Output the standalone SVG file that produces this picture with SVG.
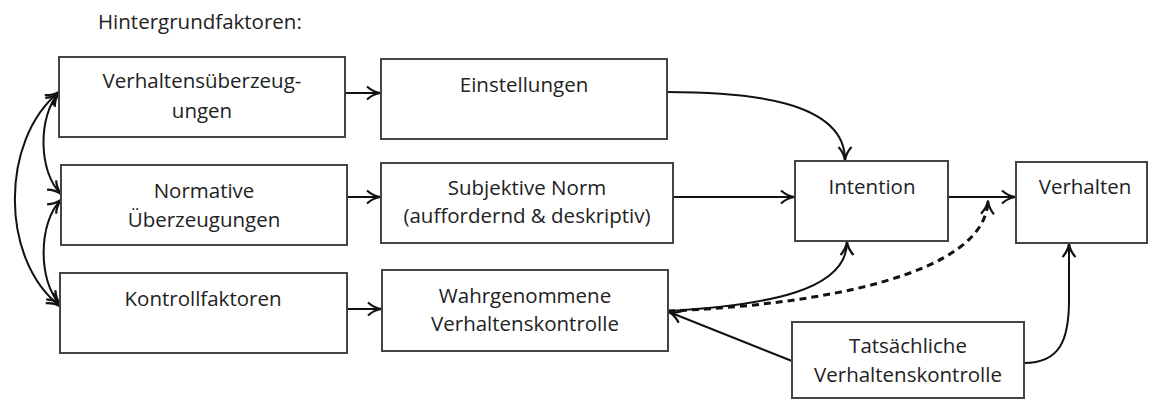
<svg xmlns="http://www.w3.org/2000/svg" width="1150" height="401" viewBox="0 0 1150 401">
<defs>
<style>
.box{fill:#fff;stroke:#444;stroke-width:2}
.t{font-family:"Open Sans","Noto Sans","Liberation Sans",sans-serif;font-size:20.5px;fill:#222;text-anchor:middle}
.c{fill:none;stroke:#111;stroke-width:2}
.d{fill:none;stroke:#111;stroke-width:3;stroke-dasharray:7 5}
</style>
<marker id="ah" viewBox="0 0 16 16" refX="14" refY="8" markerWidth="16" markerHeight="16" markerUnits="userSpaceOnUse" orient="auto-start-reverse">
<path d="M1,1.5 Q7,7 14.5,8 Q7,9 1,14.5" fill="none" stroke="#111" stroke-width="2.2"/>
</marker>
</defs>
<rect width="1150" height="401" fill="#fff"/>
<text class="t" x="98" y="29" style="text-anchor:start">Hintergrundfaktoren:</text>
<g id="connectors">
<path class="c" d="M59,93 C38,115 38,172 61,194" marker-start="url(#ah)" marker-end="url(#ah)"/>
<path class="c" d="M61,200 C38,222 38,282 60,304" marker-start="url(#ah)" marker-end="url(#ah)"/>
<path class="c" d="M59,92 C0,140 0,260 60,306" marker-start="url(#ah)" marker-end="url(#ah)"/>
<path class="c" d="M345,93 L380,93" marker-end="url(#ah)"/>
<path class="c" d="M347,197 L380,197" marker-end="url(#ah)"/>
<path class="c" d="M347,309 L381,309" marker-end="url(#ah)"/>
<path class="c" d="M667,92 C745,92 845,100 845,160" marker-end="url(#ah)"/>
<path class="c" d="M673,197 L794,197" marker-end="url(#ah)"/>
<path class="c" d="M668,311 C770,305 847,290 847,242" marker-end="url(#ah)"/>
<path class="d" d="M668,311 C820,305 985,275 988,201" marker-end="url(#ah)"/>
<path class="c" d="M948,197 L1015,197" marker-end="url(#ah)"/>
<path class="c" d="M792,361 L669,312" marker-end="url(#ah)"/>
<path class="c" d="M1024,363 C1060,363 1069,340 1069,300 L1069,244" marker-end="url(#ah)"/>
</g>
<g id="verhaltensueberzeugungen"><rect class="box" x="59" y="57" width="286" height="80"/><text class="t" x="202" y="88">Verhaltensüberzeug-</text><text class="t" x="202" y="118">ungen</text></g>
<g id="normative"><rect class="box" x="61" y="165" width="286" height="80"/><text class="t" x="204" y="198">Normative</text><text class="t" x="204" y="227">Überzeugungen</text></g>
<g id="kontrollfaktoren"><rect class="box" x="60" y="273" width="287" height="80"/><text class="t" x="203" y="306">Kontrollfaktoren</text></g>
<g id="einstellungen"><rect class="box" x="381" y="59" width="286" height="80"/><text class="t" x="524" y="92">Einstellungen</text></g>
<g id="subjektive-norm"><rect class="box" x="381" y="163" width="292" height="80"/><text class="t" x="527" y="195">Subjektive Norm</text><text class="t" x="527" y="223">(auffordernd &amp; deskriptiv)</text></g>
<g id="wahrgenommene"><rect class="box" x="382" y="270" width="286" height="81"/><text class="t" x="525" y="303">Wahrgenommene</text><text class="t" x="525" y="331">Verhaltenskontrolle</text></g>
<g id="intention"><rect class="box" x="795" y="161" width="153" height="80"/><text class="t" x="872" y="194">Intention</text></g>
<g id="verhalten"><rect class="box" x="1016" y="162" width="131" height="81"/><text class="t" x="1085" y="194">Verhalten</text></g>
<g id="tatsaechliche"><rect class="box" x="792" y="322" width="232" height="76"/><text class="t" x="908" y="353">Tatsächliche</text><text class="t" x="908" y="382">Verhaltenskontrolle</text></g>
</svg>
